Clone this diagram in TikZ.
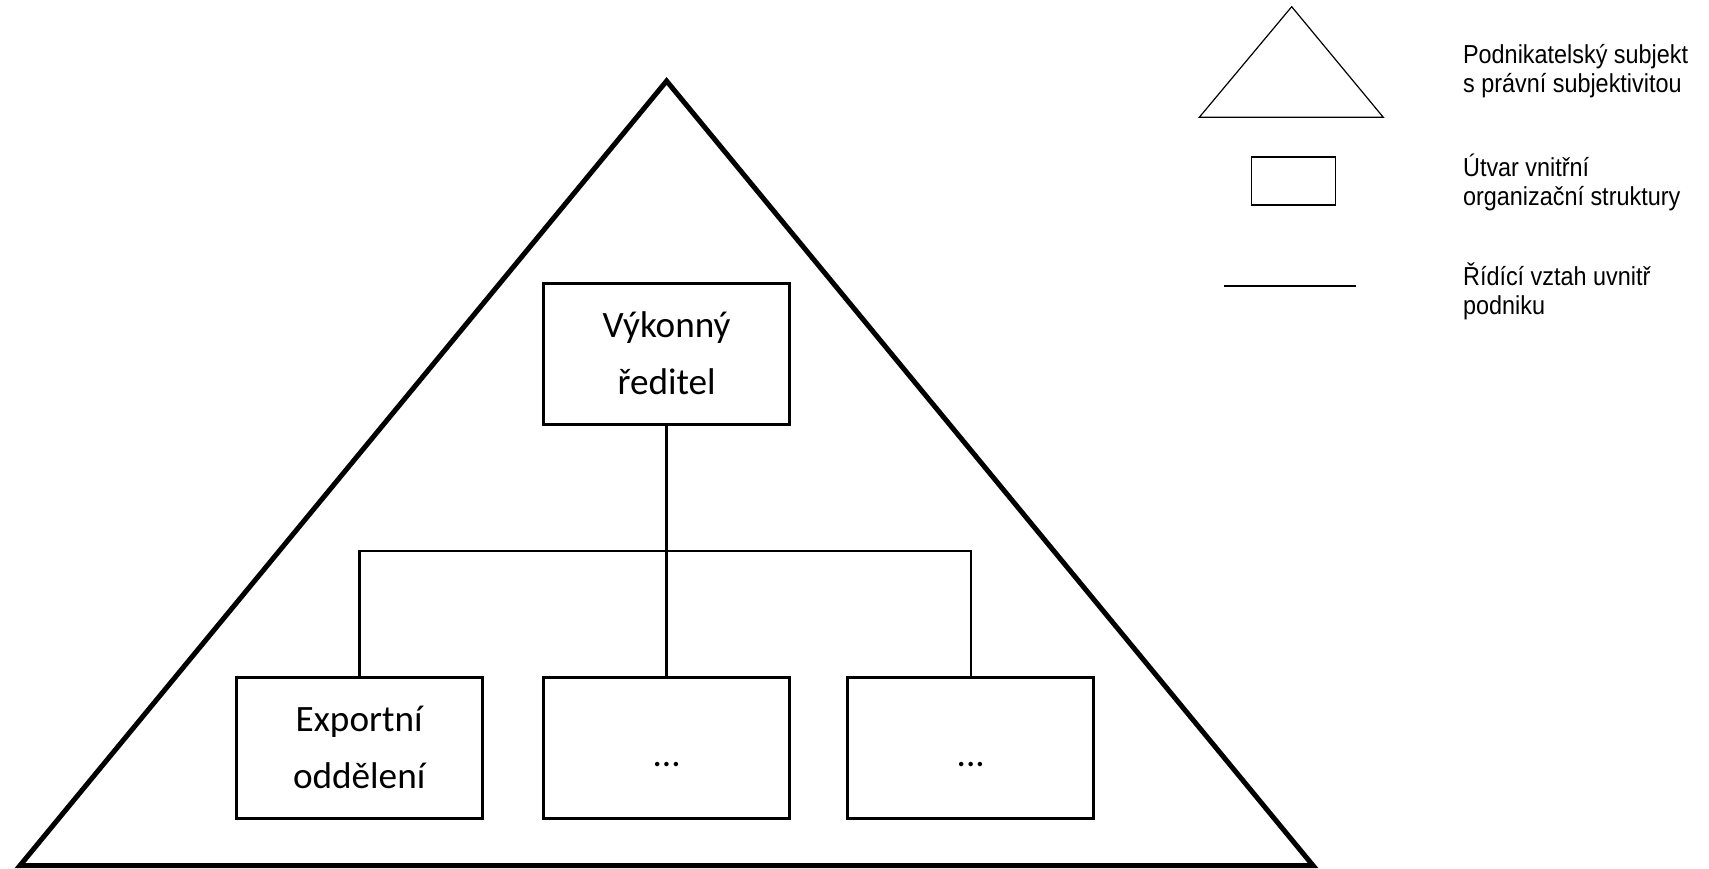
\documentclass[tikz,border=0pt]{standalone}
\usepackage{fontspec}
\setmainfont{Carlito}
\newfontfamily\legfont[FakeStretch=0.9]{Liberation Sans}
\begin{document}
\begin{tikzpicture}[x=0.5pt,y=-0.5pt,
  orgbox/.style={draw, line width=1.5pt, minimum width=123pt, minimum height=70.5pt,
    inner sep=0pt, align=center, font=\fontsize{18.6}{28.3}\selectfont},
  dotbox/.style={orgbox, text height=19pt, text depth=0pt},
  conn/.style={line width=1.3pt},
  frame/.style={line width=2.5pt, line join=miter},
  legshape/.style={line width=0.6pt},
  legtext/.style={anchor=north west, inner sep=0pt, align=left,
    font=\legfont\fontsize{13}{14.5}\selectfont}]
\useasboundingbox (0,0) rectangle (1709,868);

% big triangle
\coordinate (apex) at (666.6,81);
\coordinate (bl) at (20,865.5);
\coordinate (br) at (1313,865.5);
\draw[frame] (apex) -- (bl) -- (br) -- cycle;

% boxes
\node[orgbox] (ceo) at (666.6,353.5) {Výkonný\\ředitel};
\node[orgbox] (exp) at (359.2,747.5) {Exportní\\oddělení};
\node[dotbox] (mid) at (666.6,747.5) {...};
\node[dotbox] (rgt) at (970.8,747.5) {...};

% connectors
\coordinate (bus) at (666.6,551);
\draw[conn] (ceo.south) -- (mid.north);
\draw[conn] (exp.north) |- (bus) -| (rgt.north);

% legend
\coordinate (lta) at (1291.7,6.7);
\coordinate (ltb) at (1199.3,117.3);
\coordinate (ltc) at (1383.3,117.3);
\draw[legshape] (lta) -- (ltb) -- (ltc) -- cycle;
\node[draw, legshape, minimum width=42pt, minimum height=24pt, inner sep=0pt] (lbox) at (1293.2,181) {};
\coordinate (lla) at (1224.3,286);
\coordinate (llb) at (1356,286);
\draw[legshape] (lla) -- (llb);

\node[legtext] (t1) at (1462.7,43.5) {Podnikatelský subjekt\\s právní subjektivitou};
\node[legtext] (t2) at (1462.7,154) {Útvar vnitřní\\organizační struktury};
\node[legtext] (t3) at (1462.7,262) {Řídící vztah uvnitř\\podniku};
\end{tikzpicture}
\end{document}
